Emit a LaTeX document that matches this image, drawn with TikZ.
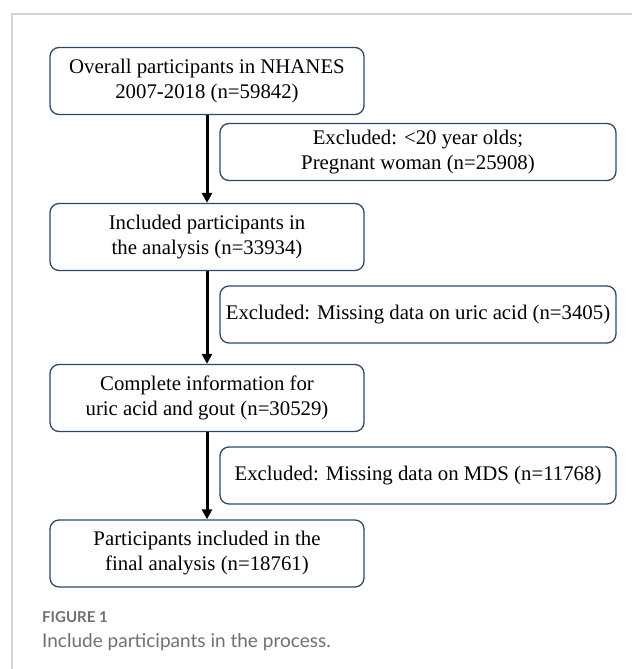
\documentclass[tikz,border=0pt]{standalone}
\usepackage{fontspec}
\setmainfont{Liberation Serif}
\newfontfamily\capfont{Lato}
\usepackage{tikz}
\usetikzlibrary{arrows.meta}
\usetikzlibrary{shapes}
\definecolor{boxline}{RGB}{47,70,104}
\definecolor{framegray}{RGB}{212,212,212}
\definecolor{capgray}{RGB}{112,112,112}

\begin{document}
\begin{tikzpicture}[x=1pt,y=-1pt]
\tikzstyle{stage}=[rectangle, draw=boxline, line width=1.3pt, rounded corners=9pt,
    align=center, inner sep=0pt, minimum width=314pt, minimum height=67pt,
    font=\fontsize{20.8}{25}\selectfont]
\tikzstyle{excl}=[stage, minimum width=396pt, minimum height=57pt]
\tikzstyle{flow}=[line width=3pt, -{Triangle[width=10pt,length=10pt]}]

\useasboundingbox (0,0) rectangle (641,669);
\draw[framegray, line width=1.5pt] (632,14) -- (12,14) -- (12,669);

\node[stage] (r1) at (207,81) {Overall participants in NHANES\\2007-2018 (n=59842)};
\node[excl] (e1) at (418,152) {Excluded: <20 year olds;\\Pregnant woman (n=25908)};
\node[stage] (r2) at (207,237) {Included participants in\\the analysis (n=33934)};
\node[excl] (e2) at (418,314.5) {Excluded: Missing data on uric acid (n=3405)};
\node[stage] (r3) at (207,398) {Complete information for\\uric acid and gout (n=30529)};
\node[excl] (e3) at (418,475.5) {Excluded: Missing data on MDS (n=11768)};
\node[stage] (r4) at (207,553.5) {Participants included in the\\final analysis (n=18761)};

\draw[flow] (r1.south) -- (r2.north);
\draw[flow] (r2.south) -- (r3.north);
\draw[flow] (r3.south) -- (r4.north);

\node[anchor=base west, inner sep=0pt, text=capgray, font=\capfont\bfseries\fontsize{15}{18}\selectfont] (fig) at (42,622) {FIGURE 1};
\node[anchor=base west, inner sep=0pt, text=capgray, font=\capfont\fontsize{19}{23}\selectfont] (cap) at (42,647) {Include participants in the process.};
\end{tikzpicture}
\end{document}
